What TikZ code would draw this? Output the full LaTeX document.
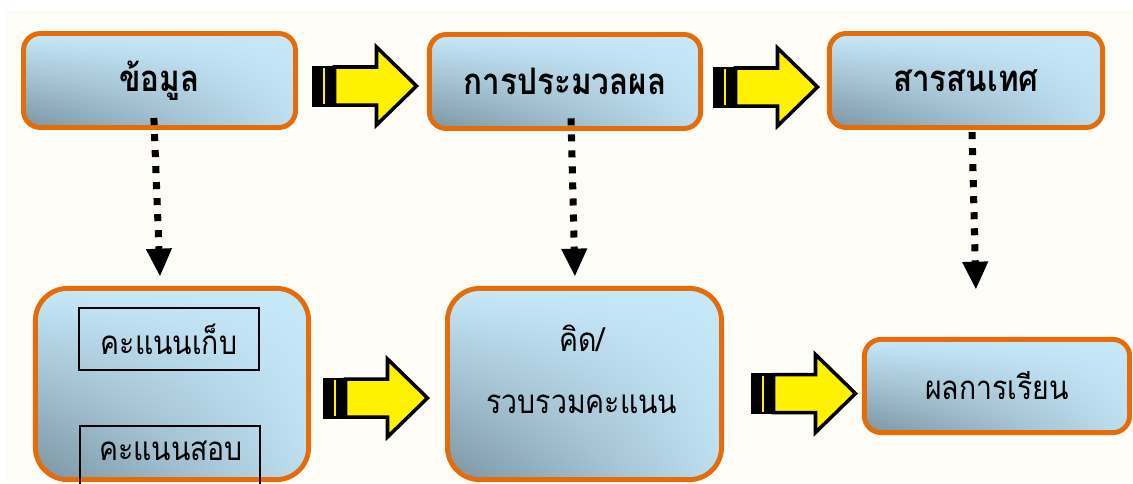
\documentclass[tikz,border=0pt]{standalone}
\usepackage{fontspec}
\setmainfont{Loma}[Script=Thai, FakeStretch=0.86]
\usetikzlibrary{positioning,arrows.meta,shadings}
\definecolor{boxBorder}{HTML}{E46C0A}
\definecolor{boxLight}{HTML}{C6E9FA}
\definecolor{boxDark}{HTML}{7B94A3}
\definecolor{paperColor}{HTML}{FDFCF6}
\tikzstyle{diagram} = [x = 0.025cm, y = -0.025cm]
\tikzstyle{boxStyle} = [draw=boxBorder, line width=3.5pt, rounded corners = 12pt, inner sep=0pt, upper left=boxLight, upper right=boxLight, lower right=boxLight!88!boxDark, lower left=boxDark]
\tikzstyle{bigBoxStyle} = [boxStyle, rounded corners = 23pt, minimum width = 6.83cm, minimum height = 4.78cm]
\tikzstyle{headText} = [font=\fontsize{26}{30}\selectfont\bfseries]
\tikzstyle{bodyText} = [font=\fontsize{23.5}{28}\selectfont]
\tikzstyle{scoreBox} = [draw=black, line width=0.8pt, minimum width = 4.5cm, inner sep=0pt]
\tikzstyle{dotArrow} = [line width=5pt, dash pattern=on 5pt off 6.4pt, -{Triangle[width=17pt, length=20pt]}]
\tikzstyle{arrowBody} = [fill=yellow, draw=black, line width=2.5pt, miter limit=4]
\newcommand{\stripedArrow}[1]{
  \begin{scope}[shift={(#1)}]
    \fill [black] (0,-20.5) rectangle (21,20.5);
    \fill [yellow] (11,-18) rectangle (12.5,18);
    \filldraw [arrowBody] (22.5,-19) -- ++(42,0) -- ++(0,-20) -- ++(40,39) -- ++(-40,39) -- ++(0,-20) -- ++(-42,0) -- cycle;
  \end{scope}
}

\begin{document}
\begin{tikzpicture}[diagram]
\useasboundingbox (0,0) rectangle (1133,483);
\clip (0,0) rectangle (1133,483);
\fill [white] (0,0) rectangle (1133,483);
\fill [paperColor] (5,10) rectangle (1133,483);
% top row
\node [boxStyle, minimum width = 6.8cm, minimum height = 2.35cm, headText] (data) at (159.5,80.5) {ข้อมูล};
\node [boxStyle, minimum width = 6.78cm, minimum height = 2.35cm, headText] (proc) at (565,81.5) {การประมวลผล};
\node [boxStyle, minimum width = 6.83cm, minimum height = 2.35cm, headText] (info) at (966,80.5) {สารสนเทศ};
% bottom row
\node [bigBoxStyle] (score) at (172,384) {};
\node [scoreBox, minimum height = 1.55cm, bodyText] (keep) at (169,339) {คะแนนเก็บ};
\node [scoreBox, minimum height = 1.6cm] (exam) at (170,458) {};
\node [bodyText] (examText) at (171,451) {คะแนนสอบ};
\node [bigBoxStyle, minimum width = 6.85cm] (think) at (584.5,384) {};
\node [bodyText, align=center] (thinkText) at (582,369) {คิด/\\[16pt]รวบรวมคะแนน};
\node [boxStyle, minimum width = 6.63cm, minimum height = 2.33cm, bodyText] (grade) at (997,386) {ผลการเรียน};
% dotted links
\draw [dotArrow] ([xshift=-4pt, yshift=8.5pt]data.south) -- ([xshift=-8.5pt, yshift=6.5pt]score.north);
\draw [dotArrow] ([xshift=4.3pt, yshift=9pt]proc.south) -- ([xshift=-6.8pt, yshift=6.5pt]think.north);
\draw [dotArrow] ([xshift=4.3pt, yshift=-1.5pt]info.south) -- ([xshift=-15pt, yshift=33.5pt]grade.north);
% block arrows
\coordinate (a1) at (312,86);
\coordinate (a2) at (713,87);
\coordinate (a3) at (323,398);
\coordinate (a4) at (751,393.5);
\stripedArrow{a1}\stripedArrow{a2}\stripedArrow{a3}\stripedArrow{a4}
\end{tikzpicture}
\end{document}
